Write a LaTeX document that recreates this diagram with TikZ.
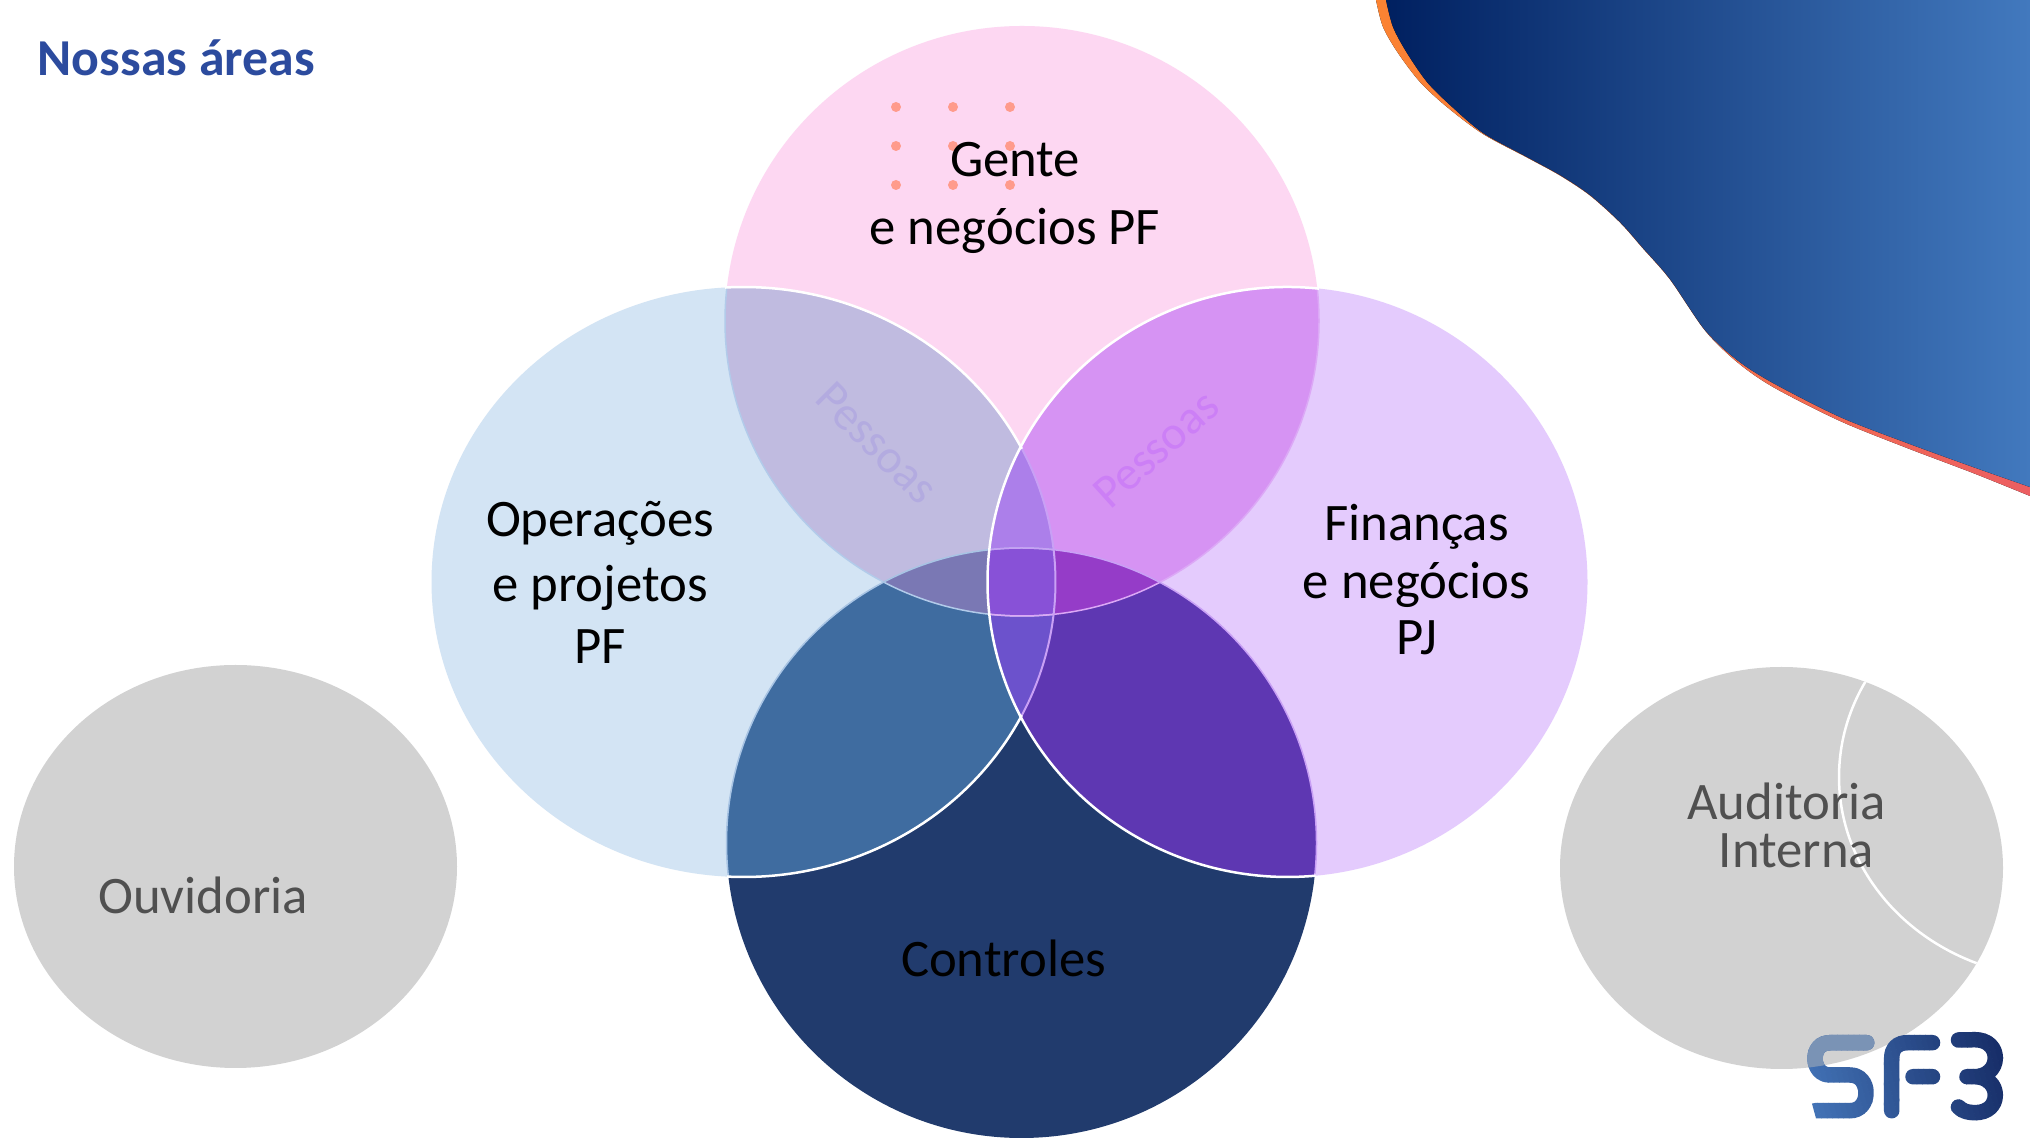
\documentclass[tikz,border=0pt]{standalone}
\usepackage{fontspec}
\setmainfont{Carlito}
\usetikzlibrary{calc}
\definecolor{cT}{HTML}{FDD7F2}
\definecolor{cL}{HTML}{D3E4F4}
\definecolor{cR}{HTML}{E4CBFD}
\definecolor{cB}{HTML}{213B6D}
\definecolor{cTL}{HTML}{C0BBE0}
\definecolor{cTR}{HTML}{D693F3}
\definecolor{cLB}{HTML}{3F6CA0}
\definecolor{cRB}{HTML}{5E37B2}
\definecolor{cTLR}{HTML}{AC7FEA}
\definecolor{cLRB}{HTML}{6C52CC}
\definecolor{cTLB}{HTML}{7A78B4}
\definecolor{cTRB}{HTML}{953CC8}
\definecolor{cAll}{HTML}{8851D7}
\definecolor{cGray}{HTML}{D2D2D2}
\definecolor{cText}{HTML}{505050}
\definecolor{cTitle}{HTML}{2C4B9E}
\definecolor{cDot}{HTML}{FF9B8C}
\definecolor{cLogoA}{HTML}{4272B5}
\definecolor{cLogoB}{HTML}{0E1F58}
\definecolor{cLogoC}{HTML}{7A93B5}
\definecolor{cOrA}{HTML}{FB8332}
\definecolor{cOrM}{HTML}{F8803A}
\definecolor{cOrB}{HTML}{EC5E62}
\definecolor{cWaveA}{HTML}{002060}
\definecolor{cWaveB}{HTML}{4279BE}
\definecolor{cEdgeTL}{HTML}{B2CBEA}
\definecolor{cEdgeBL}{HTML}{A8C4E4}
\definecolor{cEdgeTR}{HTML}{DCA8F6}
\definecolor{cEdgeBR}{HTML}{C9A0F5}
\definecolor{cPessL}{HTML}{B3ABE0}
\definecolor{cPessR}{HTML}{CC7FF6}
\newcommand\ET{(1022,822) ellipse [x radius=297,y radius=295]}
\newcommand\EL{(743.5,561) ellipse [x radius=312,y radius=295]}
\newcommand\ER{(1287.5,561) ellipse [x radius=300,y radius=295]}
\newcommand\EB{(1021.5,300) ellipse [x radius=295,y radius=295]}
\newcommand\EG{(1781.5,275) ellipse [x radius=221.5,y radius=201]}
\newcommand\sflogo{
  (1866.7,100.3) -- (1830,100.3) .. controls (1820,100.3) and (1815,93) .. (1815,84.5) .. controls (1815,75) and (1821,68) .. (1830,68) -- (1850,68) .. controls (1860,68) and (1866,60) .. (1866,50.3) .. controls (1866,40) and (1860,32.3) .. (1850,32.3) -- (1815,32.3)
  (1891.7,32.3) -- (1891.7,85) .. controls (1891.7,95) and (1898,100.3) .. (1907,100.3) -- (1932.5,100.3)
  (1913,66.3) -- (1932.5,66.3)
  (1958.5,103) -- (1975,103.3) .. controls (1988,103.3) and (1995.3,95) .. (1995.3,85) .. controls (1995.3,74) and (1986,66.3) .. (1975,66.3) -- (1967,66.3)
  (1975,66.3) .. controls (1987,66.3) and (1995.3,58) .. (1995.3,48) .. controls (1995.3,37) and (1987,30.3) .. (1975,30.3) .. controls (1968,30.3) and (1962,32) .. (1958.5,36)
}
\tikzset{
  lab/.style={font=\fontsize{52.7}{60}\selectfont,anchor=base,inner sep=0pt,text=black},
  glab/.style={lab,text=cText},
  wm/.style={font=\fontsize{47.5}{50}\selectfont,inner sep=0pt},
  wline/.style={draw=white,line width=2.5pt},
  edge/.style={line width=1.5pt},
  dotm/.style={fill=cDot,draw=none}
}
\begin{document}
\begin{tikzpicture}[x=1pt,y=1pt]
\useasboundingbox (0,0) rectangle (2030,1143);
\fill[white] (0,0) rectangle (2030,1143);
% wave
\fill[left color=cOrA,middle color=cOrM,right color=cOrB]
  plot[smooth,tension=.5] coordinates {(1376,1143) (1383,1116) (1398,1090) (1420,1061) (1447,1036) (1483,1009) (1527,985.5) (1560,967.5) (1590,947.5) (1620,920.5) (1643,894.5) (1670,863.5) (1705,812.5) (1737,781) (1773,756) (1840,722) (1907,695) (1973,670) (2030,647)}
  -- (2030,1143) -- cycle;
\fill[left color=cWaveA,right color=cWaveB]
  plot[smooth,tension=.5] coordinates {(1386,1143) (1393,1116) (1407,1090) (1427,1061) (1450,1038) (1483,1010) (1527,986) (1560,968) (1590,948) (1620,921) (1643,895) (1670,864) (1705,813) (1737,783) (1773,760) (1840,726) (1907,700) (1973,676) (2030,656)}
  -- (2030,1143) -- cycle;
% title
\node[anchor=base west,inner sep=0pt,text=cTitle,font=\fontsize{51.8}{56}\selectfont\bfseries] (title) at (37.5,1067) {Nossas áreas};
% gray circles
\fill[cGray] (235.5,276.5) ellipse [x radius=221.5,y radius=201.5];
\fill[cGray] \EG;
\begin{scope}
  \clip \EG;
  \draw[white,line width=2.5pt] (2060,366) ellipse [x radius=221,y radius=201];
\end{scope}
% base circles
\fill[cT] \ET;
\fill[cL] \EL;
\fill[cR] \ER;
\fill[cB] \EB;
% pairwise overlaps
\begin{scope}\clip \ET; \fill[cTL] \EL; \end{scope}
\begin{scope}\clip \ET; \fill[cTR] \ER; \end{scope}
\begin{scope}\clip \EL; \fill[cLB] \EB; \end{scope}
\begin{scope}\clip \ER; \fill[cRB] \EB; \end{scope}
% triple overlaps
\begin{scope}\clip \ET; \clip \EL; \fill[cTLR] \ER; \end{scope}
\begin{scope}\clip \EL; \clip \ER; \fill[cLRB] \EB; \end{scope}
\begin{scope}\clip \ET; \clip \EL; \fill[cTLB] \EB; \end{scope}
\begin{scope}\clip \ET; \clip \ER; \fill[cTRB] \EB; \end{scope}
\begin{scope}\clip \ET; \clip \EL; \clip \ER; \fill[cAll] \EB; \end{scope}
% faint edges
\begin{scope}\clip \EL;
  \draw[edge,draw=cEdgeTL] \ET;
  \draw[edge,draw=cEdgeBL] \EB;
\end{scope}
\begin{scope}\clip \ER;
  \draw[edge,draw=cEdgeTR] \ET;
  \draw[edge,draw=cEdgeBR] \EB;
\end{scope}
% white outlines
\draw[wline] (743.5,561) ++(93.4:312 and 295) arc [start angle=93.4,end angle=26.8,x radius=312,y radius=295];
\draw[wline] (743.5,561) ++(-26.8:312 and 295) arc [start angle=-26.8,end angle=-93,x radius=312,y radius=295];
\draw[line width=2pt,draw=cEdgeBR] (743.5,561) ++(26.8:312 and 295) arc [start angle=26.8,end angle=-26.8,x radius=312,y radius=295];
\draw[wline] (1287.5,561) ++(84:300 and 295) arc [start angle=84,end angle=275.4,x radius=300,y radius=295];
% dots
\foreach \dx in {896,953,1010}
  \foreach \dy in {1036,997,958}
    \fill[dotm] (\dx,\dy) circle (5);
% labels
\node[lab] (g1) at (1015,966) {Gente};
\node[lab] (g2) at (1015,898.5) {e negócios PF};
\node[lab] (o1) at (600,606) {Operações};
\node[lab] (o2) at (600,541) {e projetos};
\node[lab] (o3) at (600,479) {PF};
\node[lab] (f1) at (1416.5,602) {Finanças};
\node[lab] (f2) at (1416.5,544) {e negócios};
\node[lab] (f3) at (1417,488) {PJ};
\node[lab] (c1) at (1003.5,166) {Controles};
\node[glab] (ou) at (203,229) {Ouvidoria};
\node[glab] (a1) at (1786.5,323) {Auditoria};
\node[glab] (a2) at (1796.5,275) {Interna};
\node[wm,text=cPessL,rotate=-45] (p1) at (877,700) {Pessoas};
\node[wm,text=cPessR,rotate=42] (p2) at (1156,694) {Pessoas};
% logo
\foreach \i in {0,...,44} {
  \pgfmathsetmacro{\xa}{1790+\i*5.5}
  \pgfmathsetmacro{\xb}{\xa+6}
  \pgfmathsetmacro{\pc}{100-\i*100/44}
  \begin{scope}
    \clip (\xa+0,120) -- (\xb+0,120) -- (\xb+30,10) -- (\xa+30,10) -- cycle;
    \draw[color={cLogoA!\pc!cLogoB},line width=15.5pt,line cap=round,line join=round] \sflogo;
  \end{scope}
}
\begin{scope}
  \clip \EG;
  \clip (1800,115) rectangle (1880,60);
  \draw[color=cLogoC,line width=15.5pt,line cap=round,line join=round] \sflogo;
\end{scope}
\end{tikzpicture}
\end{document}
